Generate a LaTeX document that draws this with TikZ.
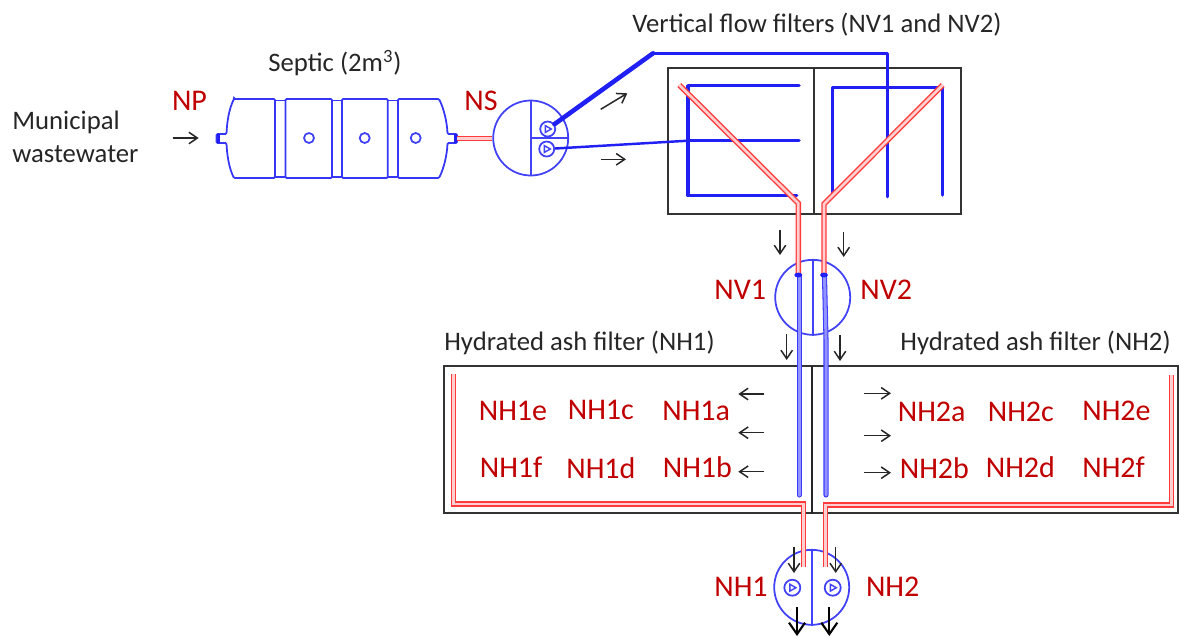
\documentclass[tikz,border=0pt]{standalone}
\usepackage{fontspec}
\setmainfont{Carlito}
\usepackage{xcolor}
\usetikzlibrary{arrows.meta,calc}
\definecolor{figBlue}{HTML}{2020F5}
\definecolor{figTwin}{HTML}{3A3AFF}
\definecolor{figRed}{HTML}{FF3A3A}
\definecolor{figLabel}{HTML}{C00000}
\definecolor{figInk}{HTML}{262626}
\definecolor{figBox}{HTML}{333333}
\tikzset{
  filterbox/.style={draw=figBox, fill=none, line width=1pt, inner sep=0pt},
  chamber/.style={circle, draw=figBlue!85, line width=1pt, minimum size=1.5cm,
    inner sep=0pt},
  pumpwheel/.style={circle, draw=figBlue!85, line width=1pt, minimum size=.3cm,
    inner sep=0pt},
  port/.style={circle, draw=figBlue!85, line width=1pt, minimum size=.2cm,
    inner sep=0pt},
  tankline/.style={draw=figBlue!90, line width=1pt, rounded corners=.6pt},
  bluepipe/.style={draw=figBlue, line width=2pt, line cap=round,
    line join=round},
  bluetwin/.style={draw=figTwin, double=figTwin!55, line width=.6pt,
    double distance=1.7pt, line cap=round},
  redpipe/.style={draw=figRed, double=figRed!25, line width=.8pt,
    double distance=1.5pt, line join=miter},
  flowmark/.style={-{Straight Barb[length=1.7mm,width=2.3mm]}, draw=figInk,
    line width=.85pt},
  exitmark/.style={-{Straight Barb[length=2.3mm,width=3.2mm]}, draw=black,
    line width=1.2pt},
  sitelabel/.style={font=\fontsize{17.1}{20}\selectfont, text=figLabel,
    anchor=base west, inner sep=0pt},
  plainlabel/.style={font=\fontsize{15.2}{18.7}\selectfont, text=figInk,
    anchor=base west, inner sep=0pt},
}
\newcommand{\pumpmark}[1]{%
  \draw[figBlue!85,line width=.8pt] ($(#1)+(-2.4,-3.4)$)--($(#1)+(-2.4,3.4)$)
    --($(#1)+(3.6,0)$)--cycle;%
}
\begin{document}
\begin{tikzpicture}[x=.02cm,y=-.02cm]
  \useasboundingbox (0,0) rectangle (1179,637);

  % Feed side: inlet, tank and dosing chamber.
  \node[plainlabel,anchor=west,align=left] (municipal) at (12,137)
    {Municipal\\wastewater};
  \node[sitelabel] (np) at (171.7,110.7) {NP};
  \node[sitelabel] (ns) at (464,110.7) {NS};
  \node[plainlabel] (septic) at (268,71.7) {Septic (2m\textsuperscript{3})};
  \coordinate (npfrom) at (172.7,138);
  \coordinate (npto) at (198.7,138);
  \draw[flowmark] (npfrom)--(npto);

  \draw[tankline] (234,99)--(275,99)--(275,178)--(234,178)
    .. controls (229,168) and (227,155) .. (226.5,143)--(216.5,143)
    --(216.5,134)--(226.5,134)
    .. controls (227,122) and (229,109) .. (234,99)--cycle;
  \draw[tankline] (285.5,99)rectangle(332,178);
  \draw[tankline] (342,99)rectangle(387.7,178);
  \draw[tankline] (398,99)--(439,99)
    .. controls (444,109) and (447,122) .. (447.5,134)--(457,134)
    --(457,143)--(447.5,143)
    .. controls (447,155) and (444,168) .. (439,178)--(398,178)--cycle;
  \draw[tankline] (275,100.5)--(285.5,100.5) (332,100.5)--(342,100.5)
    (387.7,100.5)--(398,100.5) (275,177)--(285.5,177) (332,177)--(342,177)
    (387.7,177)--(398,177);
  \fill[figBlue] (216.5,134) rectangle (220,143);
  \fill[figBlue] (453.5,134) rectangle (457,143);
  \node[port] (portA) at (309,138) {};
  \node[port] (portB) at (364.7,138) {};
  \node[port] (portC) at (415.7,138) {};

  \node[chamber] (tankNS) at (530.7,138) {};
  \draw[figBlue!85,line width=1pt] (tankNS.north)--(tankNS.south)
    (tankNS.center)--(tankNS.east);
  \node[pumpwheel] (pumpA) at (547.7,129) {};
  \node[pumpwheel] (pumpB) at (546.7,149) {};
  \pumpmark{pumpA}
  \pumpmark{pumpB}
  \coordinate (tankout) at (457,138.7);
  \draw[redpipe] (tankout)--(tankNS.west |- tankout);

  % Vertical flow filters.
  \node[plainlabel] (vftitle) at (632,32)
    {Vertical flow filters (NV1 and NV2)};
  \node[filterbox,minimum width=5.866cm,minimum height=2.92cm] (vfbox)
    at (814.35,140.7) {};
  \coordinate (vfdiv) at (814.3,67.7);
  \draw[figBox,line width=1pt] (vfdiv)--(vfdiv |- vfbox.south);
  \coordinate (nvbendA) at (653,53.3);
  \coordinate (nvbendB) at (887.7,53.3);
  \coordinate (nvendB) at (887.7,196.7);
  \draw[figBlue,line width=2.6pt,line cap=round] (pumpA)--(nvbendA);
  \draw[bluepipe] (nvbendA)--(nvbendB)--(nvendB);
  \coordinate (nvfeed) at (688,140.7);
  \coordinate (nvfeedend) at (799,140.7);
  \draw[figBlue,line width=1.4pt] (pumpB)--(nvfeed);
  \draw[bluepipe] (nvfeed)--(nvfeedend);
  \draw[bluepipe] (799,85.7)--(688,85.7)--(688,195.7)--(796.7,195.7);
  \draw[bluepipe] (832.7,195)--(832.7,87.3)--(942.3,87.3)--(942.3,195);
  \coordinate (markAfrom) at (600.7,109.3);
  \coordinate (markAto) at (627.3,93.3);
  \coordinate (markBfrom) at (600.7,159.3);
  \coordinate (markBto) at (626,159.3);
  \draw[flowmark] (markAfrom)--(markAto);
  \draw[flowmark] (markBfrom)--(markBto);

  % Collection chamber below the first stage.
  \node[chamber] (tankNV) at (812.7,297.3) {};
  \draw[figBlue!85,line width=1pt] (tankNV.north)--(tankNV.south);
  \node[sitelabel] (nv1) at (714,299) {NV1};
  \node[sitelabel] (nv2) at (860,299) {NV2};
  \coordinate (dropA) at (798.3,275);
  \coordinate (dropB) at (824,275);
  \foreach \xa/\ya/\yb [count=\i] in {780/230/255,843.7/232/257,
    786.7/334/360,840/335/361}
    \draw[flowmark] (\xa,\ya)--(\xa,\yb);

  % Hydrated ash filters.
  \node[plainlabel] (hatitleA) at (444,350) {Hydrated ash filter (NH1)};
  \node[plainlabel] (hatitleB) at (900,350) {Hydrated ash filter (NH2)};
  \node[filterbox,minimum width=14.68cm,minimum height=2.946cm] (habox)
    at (811,439.65) {};
  \coordinate (hadiv) at (811.7,366);
  \draw[figInk,line width=1pt] (hadiv)--(hadiv |- habox.south);
  \coordinate (haendA) at (799.3,495);
  \coordinate (haendB) at (826,495);
  \draw[bluetwin] (799.3,277)--(haendA);
  \draw[bluetwin] (824.5,277)--(826,340)--(haendB);
  \foreach \nm/\xa/\ya in {NH1e/478.5/420,NH1c/567.5/419,NH1a/662/420,
    NH1f/479.5/477,NH1d/566/478,NH1b/662.5/477,
    NH2a/897.5/421,NH2c/987.5/421,NH2e/1082/420.7,
    NH2b/899.5/478,NH2d/985.5/477,NH2f/1082/477}
    \node[sitelabel] (\nm) at (\xa,\ya) {\nm};
  \foreach \ya in {394,432.7,471.7}
    \draw[flowmark] (764.3,\ya)--(738.3,\ya);
  \foreach \ya in {393.3,435.7,472.7}
    \draw[flowmark] (864,\ya)--(891,\ya);

  % Outlet chamber with its two pumps.
  \node[chamber] (tankNH) at (811.7,587.3) {};
  \draw[figBlue!85,line width=1pt] (tankNH.north)--(tankNH.south);
  \node[pumpwheel,minimum size=.32cm] (pumpC) at (792.3,587.7) {};
  \node[pumpwheel,minimum size=.32cm] (pumpD) at (832.7,587.7) {};
  \pumpmark{pumpC}
  \pumpmark{pumpD}
  \node[sitelabel] (nh1) at (714,596.7) {NH1};
  \node[sitelabel] (nh2) at (865.7,596.7) {NH2};
  \foreach \xa in {794,835.7}
    \draw[flowmark] (\xa,546.5)--(\xa,573);
  \foreach \xa in {797,829.3}
    \draw[exitmark] (\xa,607)--(\xa,636);

  % Red pipes go over everything else.
  \draw[redpipe] (679.3,85)--(798.3,203.3)--(dropA);
  \draw[redpipe] (942.7,85)--(824,204)--(dropB);
  \draw[redpipe] (453.3,374)--(453.3,504)--(803.3,504)--(803.3,566.7);
  \draw[redpipe] (1171.7,375)--(1171.7,505)--(825.5,505)--(825.5,566.7);
  \fill[figBlue] (dropA) ellipse (4 and 2.4);
  \fill[figBlue] (dropB) ellipse (4 and 2.4);
\end{tikzpicture}
\end{document}
